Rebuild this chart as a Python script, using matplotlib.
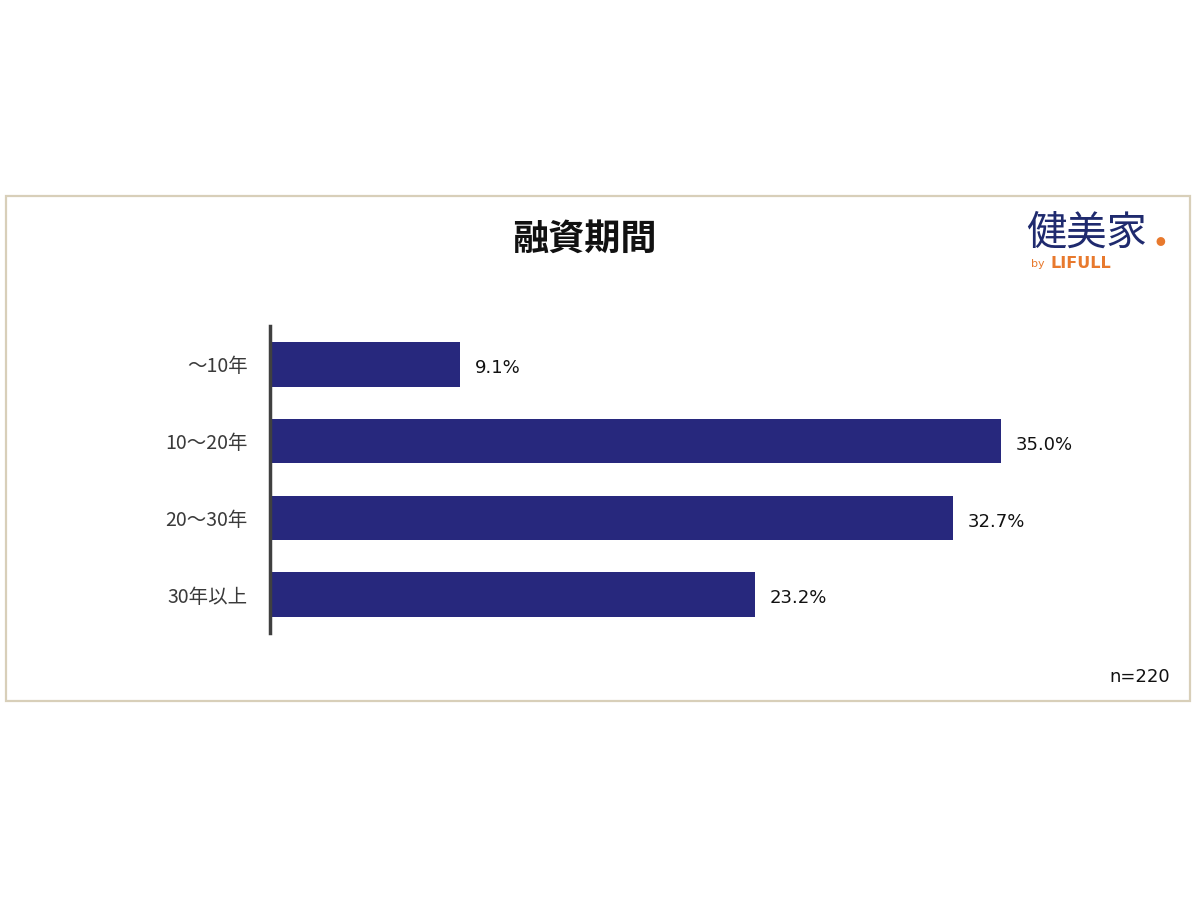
import matplotlib.pyplot as plt
from matplotlib.patches import Rectangle

plt.rcParams['font.family'] = ['Noto Sans CJK JP', 'DejaVu Sans']

categories = ['～10年', '10～20年', '20～30年', '30年以上']
values = [9.1, 35.0, 32.7, 23.2]
title = '融資期間'
note = 'n=220'

bar_color = '#27287d'

fig = plt.figure(figsize=(12, 9), dpi=100)

# frame around chart area
fig.patches.append(Rectangle((6 / 1200, 1 - 701 / 900), 1184 / 1200, 505 / 900,
                             transform=fig.transFigure, fill=False,
                             edgecolor='#d8cfb9', linewidth=1.6))

ax = fig.add_axes([270 / 1200, 1 - 633 / 900, 0.6963, 307 / 900])
y = range(len(categories))
ax.barh(y, values, height=0.58, color=bar_color)
ax.set_ylim(3.5, -0.5)
ax.set_xlim(0, 40)
ax.set_yticks(list(y))
ax.set_yticklabels(categories, fontsize=14, color='#3a3a3a')
ax.tick_params(axis='y', length=0, pad=16)
ax.set_xticks([])
for s in ['top', 'right', 'bottom']:
    ax.spines[s].set_visible(False)
ax.spines['left'].set_linewidth(2.5)
ax.spines['left'].set_color('#404040')

for i, v in enumerate(values):
    ax.text(v + 0.7, i + 0.05, f'{v:.1f}%', va='center', ha='left',
            fontsize=13, color='#111111', family='DejaVu Sans')

fig.text(584 / 1200, 1 - 239 / 900, title, ha='center', va='center',
         fontsize=26, fontweight='bold', color='#111111')

# logo
fig.text(1026 / 1200, 1 - 233 / 900, '健美家', ha='left', va='center',
         fontsize=29, color='#1f2a6e')
fig.text(1160 / 1200, 1 - 242 / 900, '●', ha='center', va='center',
         fontsize=7, color='#e8792d')
fig.text(1031 / 1200, 1 - 264 / 900, 'by', ha='left', va='center',
         fontsize=8, color='#e8792d', family='DejaVu Sans')
fig.text(1050 / 1200, 1 - 264 / 900, 'LIFULL', ha='left', va='center',
         fontsize=11.5, fontweight='bold', color='#e8792d', family='DejaVu Sans')

fig.text(1170 / 1200, 1 - 677 / 900, note, ha='right', va='center',
         fontsize=13, color='#111111', family='DejaVu Sans')

fig.savefig('out.png', dpi=100)
